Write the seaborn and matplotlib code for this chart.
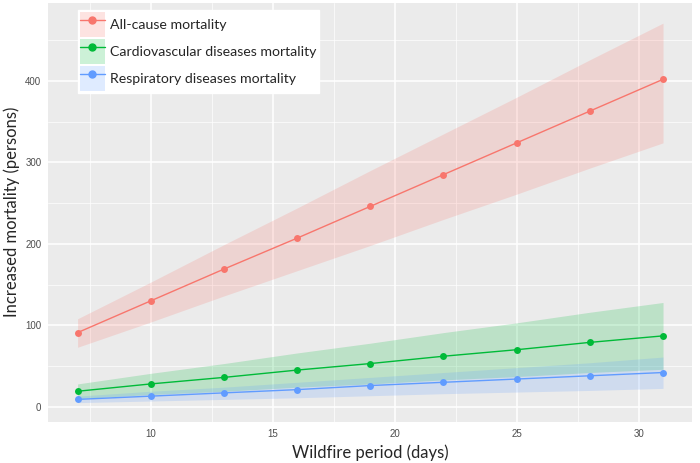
import matplotlib.pyplot as plt
import numpy as np
import pandas as pd
import seaborn as sns
from matplotlib.lines import Line2D
from matplotlib.patches import Patch
from matplotlib.ticker import MultipleLocator

# wildfire period (days) and estimated extra deaths
days = [7, 10, 13, 16, 19, 22, 25, 28, 31]

all_cause = [91, 130, 169, 207, 246, 285, 324, 363, 402]
all_cause_lo = [73, 104, 136, 167, 198, 230, 261, 293, 324]
all_cause_hi = [108, 153, 199, 244, 290, 335, 380, 426, 471]

cardio = [19, 28, 36, 45, 53, 62, 70, 79, 87]
cardio_lo = [10, 15, 19, 24, 28, 33, 37, 42, 46]
cardio_hi = [28, 41, 53, 66, 78, 91, 103, 116, 128]

resp = [9, 13, 17, 21, 26, 30, 34, 38, 42]
resp_lo = [5, 7, 9, 11, 13.5, 16, 18, 20, 22.5]
resp_hi = [13, 19, 24, 30, 36, 42, 48, 54, 61]

labels = ["All-cause mortality",
          "Cardiovascular diseases mortality",
          "Respiratory diseases mortality"]
colors = ["#F8766D", "#00BA38", "#619CFF"]

df = pd.DataFrame({
    "days": days * 3,
    "deaths": all_cause + cardio + resp,
    "lo": all_cause_lo + cardio_lo + resp_lo,
    "hi": all_cause_hi + cardio_hi + resp_hi,
    "cause": np.repeat(labels, len(days)),
})

sns.set_theme(style="darkgrid", rc={
    "axes.facecolor": "#EBEBEB",
    "grid.color": "white",
    "xtick.major.size": 3,
    "ytick.major.size": 3,
    "xtick.color": "#333333",
    "ytick.color": "#333333",
})
plt.rcParams["font.family"] = ["Liberation Sans", "DejaVu Sans"]

fig = plt.figure(figsize=(7, 4.63), dpi=100)
ax = fig.add_axes([0.069, 0.089, 0.92, 0.905])

# confidence ribbons
for lab, col in zip(labels, colors):
    sub = df[df.cause == lab]
    ax.fill_between(sub.days, sub.lo, sub.hi, color=col, alpha=0.2, lw=0)

sns.lineplot(data=df, x="days", y="deaths", hue="cause", palette=colors,
             marker="o", markersize=5, markeredgewidth=0, linewidth=1.0,
             legend=False, ax=ax)

ax.set_xlim(5.8, 32.2)
ax.set_ylim(-18.5, 496)
ax.xaxis.set_major_locator(MultipleLocator(5))
ax.xaxis.set_minor_locator(MultipleLocator(2.5))
ax.yaxis.set_major_locator(MultipleLocator(100))
ax.yaxis.set_minor_locator(MultipleLocator(50))
ax.grid(which="major", color="white", linewidth=1.1)
ax.grid(which="minor", color="white", linewidth=0.5)
ax.tick_params(axis="both", which="major", labelsize=7, labelcolor="#4D4D4D",
               pad=2, width=0.8)
ax.tick_params(axis="both", which="minor", length=0)
for s in ax.spines.values():
    s.set_visible(False)

ax.set_xlabel("Wildfire period (days)", fontsize=12, family=["Lato", "DejaVu Sans"],
              labelpad=4)
ax.set_ylabel("Increased mortality (persons)", fontsize=12,
              family=["Lato", "DejaVu Sans"], labelpad=4)

handles = [(Patch(facecolor=c, alpha=0.2, lw=0),
            Line2D([], [], color=c, marker="o", markersize=5, lw=1.0))
           for c in colors]
leg = ax.legend(handles, labels, loc="upper left", bbox_to_anchor=(0.0466, 0.983),
                frameon=True, fancybox=False, framealpha=1, edgecolor="white",
                facecolor="white", prop={"family": ["Lato", "DejaVu Sans"], "size": 10.2},
                handlelength=1.75, handleheight=2.4, labelspacing=0.1,
                handletextpad=0.4, borderpad=0.12, borderaxespad=0)

fig.savefig("out.png", dpi=100)
